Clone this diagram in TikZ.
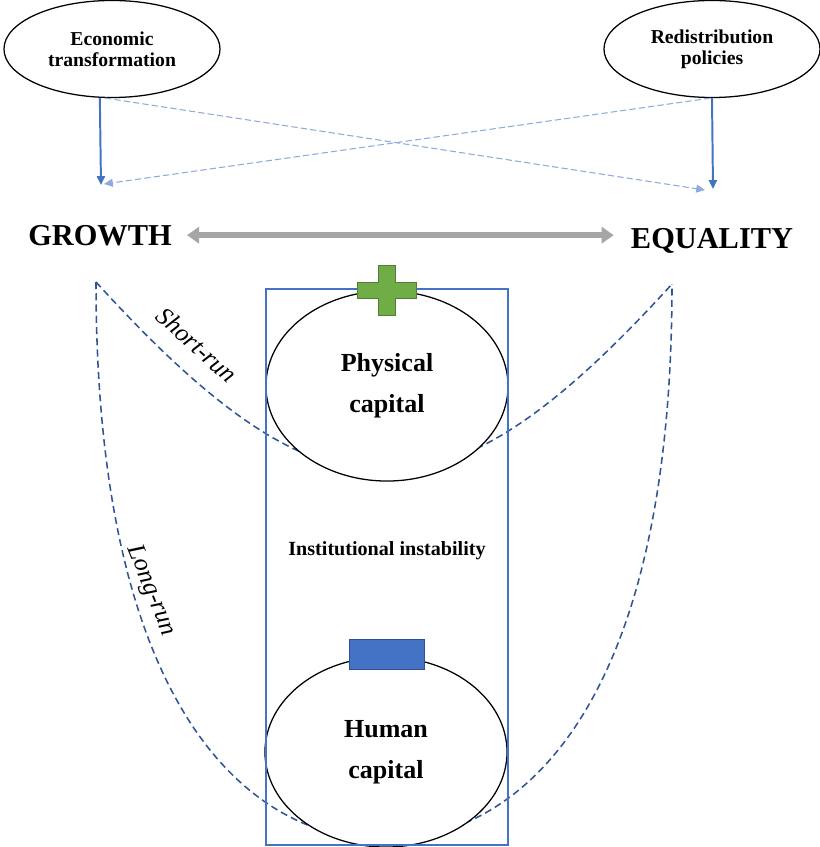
\documentclass[tikz,border=0pt]{standalone}
\usepackage{fontspec}
\setmainfont{Liberation Serif}
\usetikzlibrary{calc,shapes.geometric,arrows.meta}

\definecolor{boxblue}{HTML}{4472C4}
\definecolor{lightblue}{HTML}{8FAADC}
\definecolor{curveblue}{HTML}{2F5597}
\definecolor{arrowgray}{HTML}{A6A6A6}
\definecolor{plusgreen}{HTML}{70AD47}
\definecolor{plusedge}{HTML}{507E32}
\definecolor{baredge}{HTML}{2F528F}

\begin{document}
\begin{tikzpicture}[x=0.025cm,y=-0.025cm,
  oval/.style={ellipse,draw,fill=white,line width=0.9pt,inner sep=0pt,align=center,
    minimum width=5.4cm,minimum height=2.425cm,font=\bfseries\fontsize{14}{15}\selectfont},
  capital/.style={ellipse,draw,fill=white,line width=0.9pt,inner sep=0pt,align=center,
    minimum width=6.05cm,minimum height=4.75cm,font=\bfseries\fontsize{18.5}{29}\selectfont},
  bigword/.style={inner sep=0pt,anchor=base,font=\bfseries\fontsize{21.6}{26}\selectfont},
  mainarrow/.style={boxblue,line width=1.4pt,-{Triangle[length=0.22cm,width=0.2cm]}},
  crossarrow/.style={lightblue,line width=0.75pt,dash pattern=on 4.5pt off 2.2pt,
    -{Triangle[length=0.22cm,width=0.2cm]}},
  runline/.style={curveblue,line width=1.1pt,dash pattern=on 5pt off 3pt},
  runlabel/.style={inner sep=0pt,font=\itshape\fontsize{18}{20}\selectfont}]

  \useasboundingbox (0,0) rectangle (820,847);

  %% Top ovals and the two goals
  \foreach \name/\x/\txt in {econ/112/{Economic\\transformation},redis/712/{Redistribution\\policies}}
  {
    \node[oval] (\name) at (\x,49) {\txt};
  }
  \node[bigword] (growth) at (100,245) {GROWTH};
  \node[bigword] (equal) at (712,248) {EQUALITY};

  \coordinate (gin) at (101,185);
  \coordinate (ein) at (713,189);
  \coordinate (gend) at (104,184);
  \coordinate (eend) at (705,190);

  \draw[mainarrow] (econ.-104) -- (gin);
  \draw[mainarrow] (redis.south) -- (ein);
  \draw[crossarrow] (econ.-98) -- (eend);
  \draw[crossarrow] (redis.-92) -- (gend);

  \draw[arrowgray,line width=0.15cm,{Triangle[length=0.3cm,width=0.4cm]}-{Triangle[length=0.3cm,width=0.4cm]}]
    ([xshift=0.375cm]growth.east) -- ([xshift=-0.425cm]growth.east -| equal.west);

  %% Short-run and long-run paths
  \coordinate (grun) at (96,282);
  \coordinate (erun) at (672,284);
  \draw[runline] (grun) .. controls (324,533) and (444,535) .. (erun);
  \draw[runline] (grun) .. controls (96,732) and (264,840) .. (384,840)
                        .. controls (504,840) and (672,732) .. (erun);
  \node[runlabel,rotate=-42] (short) at (197,345) {Short-run};
  \node[runlabel,rotate=-68] (long) at (151,591) {Long-run};

  %% Capitals inside the frame
  \node[capital] (phys) at (387,386) {Physical\\capital};
  \node[capital] (human) at (386,752) {Human\\capital};
  \node[draw=boxblue,line width=0.9pt,inner sep=0pt,minimum width=6.05cm,minimum height=13.9cm] (frame) at (387,567) {};
  \node[font=\bfseries\fontsize{14.3}{16}\selectfont] (instab) at (387,551) {Institutional instability};

  %% Plus and minus marks
  \filldraw[fill=plusgreen,draw=plusedge,line width=0.6pt,shift={(386.5,290)}]
    (-8.5,-25) -- (8.5,-25) -- (8.5,-8) -- (29.5,-8) -- (29.5,8) -- (8.5,8)
    -- (8.5,25) -- (-8.5,25) -- (-8.5,8) -- (-29.5,8) -- (-29.5,-8) -- (-8.5,-8) -- cycle;
  \node[draw=baredge,fill=boxblue,line width=0.6pt,inner sep=0pt,minimum width=1.875cm,minimum height=0.75cm] (minus) at (386.5,654) {};

\end{tikzpicture}
\end{document}
